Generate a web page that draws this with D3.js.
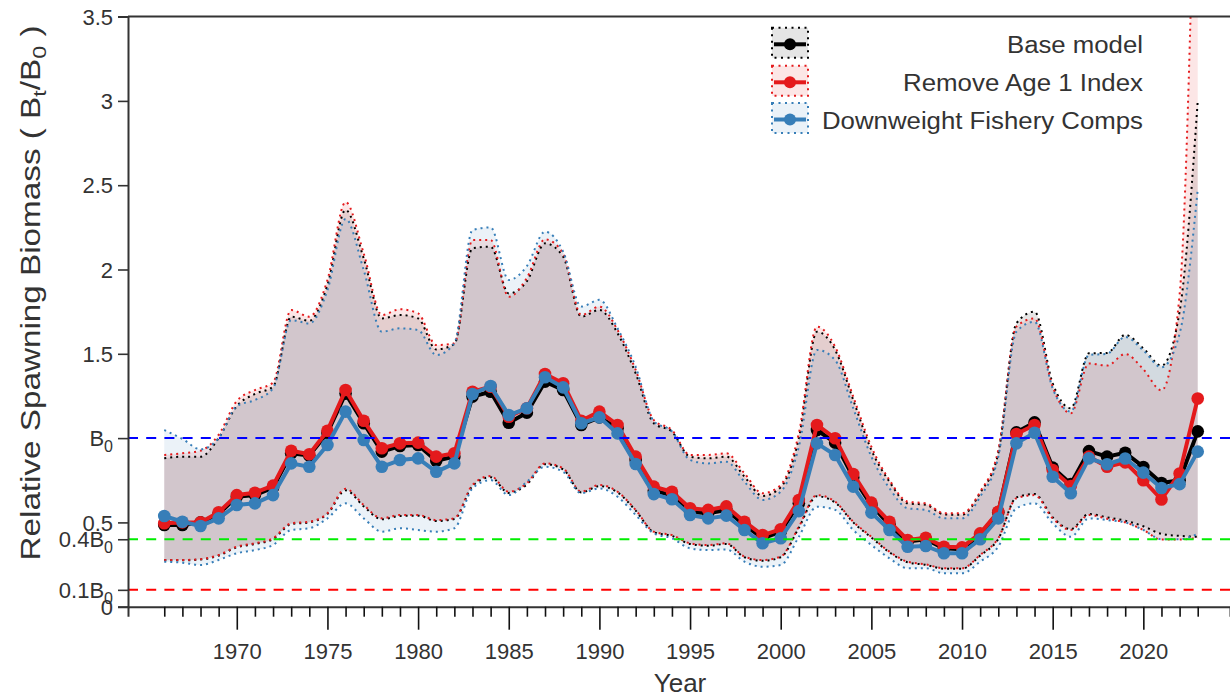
<!DOCTYPE html>
<html>
<head>
<meta charset="utf-8">
<script src="https://cdn.jsdelivr.net/npm/d3@7"></script>
<style>
  html, body { margin: 0; padding: 0; background: #fff; }
  svg { display: block; }
  text { font-family: "Liberation Sans", Arial, Helvetica, sans-serif; fill: #333; }
</style>
</head>
<body>
<svg id="chart" width="1230" height="698"></svg>
<script>
// Years of the assessment
const years = d3.range(1966, 2024);

// Spawning biomass relative to B0, point estimates
const baseModel = [0.485,0.485,0.50,0.55,0.652,0.662,0.706,0.91,0.896,1.032,1.264,1.088,0.92,0.953,0.959,0.866,0.89,1.246,1.275,1.091,1.151,1.335,1.285,1.078,1.123,1.058,0.87,0.688,0.662,0.563,0.554,0.574,0.485,0.406,0.445,0.613,1.048,0.973,0.767,0.603,0.485,0.386,0.40,0.346,0.34,0.425,0.56,1.034,1.093,0.825,0.728,0.923,0.89,0.913,0.829,0.734,0.75,1.04];
const removeAge1 = [0.495,0.50,0.50,0.56,0.662,0.676,0.718,0.925,0.904,1.044,1.285,1.103,0.94,0.969,0.973,0.89,0.91,1.275,1.305,1.127,1.177,1.38,1.325,1.103,1.157,1.078,0.89,0.712,0.682,0.584,0.574,0.595,0.504,0.425,0.459,0.633,1.078,0.999,0.787,0.617,0.504,0.396,0.409,0.356,0.352,0.435,0.563,1.024,1.078,0.811,0.716,0.89,0.83,0.856,0.75,0.636,0.79,1.235];
const downweight = [0.538,0.504,0.479,0.524,0.603,0.613,0.662,0.85,0.83,0.959,1.157,0.989,0.83,0.87,0.88,0.80,0.85,1.262,1.309,1.137,1.177,1.361,1.301,1.088,1.123,1.028,0.846,0.668,0.637,0.544,0.524,0.54,0.455,0.376,0.406,0.567,0.969,0.90,0.712,0.558,0.455,0.356,0.36,0.317,0.317,0.40,0.524,0.969,1.032,0.771,0.673,0.88,0.845,0.879,0.795,0.704,0.727,0.92];

// Upper interval bounds
const baseUpper = [0.88,0.89,0.89,1.0,1.19,1.262,1.305,1.72,1.696,1.908,2.353,2.066,1.71,1.73,1.71,1.526,1.558,2.126,2.135,1.858,1.93,2.155,2.076,1.72,1.76,1.622,1.384,1.088,1.038,0.89,0.88,0.89,0.771,0.657,0.708,0.999,1.631,1.523,1.226,0.929,0.741,0.613,0.605,0.548,0.545,0.675,0.91,1.681,1.75,1.325,1.177,1.503,1.505,1.612,1.533,1.43,1.75,3.0];
const removeUpper = [0.90,0.91,0.925,1.02,1.22,1.285,1.329,1.76,1.72,1.938,2.40,2.096,1.73,1.764,1.74,1.552,1.562,2.175,2.175,1.838,1.95,2.179,2.096,1.73,1.78,1.641,1.404,1.107,1.048,0.90,0.90,0.91,0.791,0.673,0.722,1.028,1.661,1.542,1.246,0.949,0.751,0.623,0.613,0.554,0.554,0.682,0.929,1.661,1.71,1.305,1.147,1.443,1.43,1.499,1.408,1.283,1.85,5.2];
const downUpper = [1.048,0.995,0.934,1.0,1.19,1.226,1.295,1.70,1.68,1.878,2.30,1.997,1.631,1.651,1.641,1.493,1.562,2.234,2.25,1.938,2.02,2.224,2.106,1.78,1.82,1.651,1.423,1.10,1.04,0.87,0.85,0.86,0.741,0.633,0.682,0.949,1.523,1.463,1.177,0.89,0.702,0.584,0.574,0.524,0.524,0.652,0.89,1.631,1.69,1.295,1.157,1.493,1.50,1.60,1.52,1.42,1.62,2.475];

// Lower interval bounds
const baseLower = [0.275,0.275,0.28,0.303,0.352,0.372,0.40,0.49,0.50,0.55,0.69,0.595,0.518,0.538,0.54,0.508,0.52,0.715,0.768,0.675,0.725,0.845,0.815,0.678,0.715,0.678,0.57,0.442,0.42,0.372,0.362,0.372,0.293,0.272,0.293,0.468,0.655,0.618,0.50,0.41,0.322,0.263,0.248,0.225,0.225,0.303,0.402,0.648,0.668,0.53,0.46,0.55,0.53,0.51,0.477,0.432,0.42,0.415];
const removeLower = [0.277,0.277,0.282,0.307,0.356,0.376,0.406,0.495,0.504,0.554,0.70,0.603,0.524,0.544,0.544,0.514,0.524,0.722,0.775,0.682,0.732,0.85,0.821,0.682,0.722,0.682,0.574,0.445,0.425,0.376,0.366,0.376,0.297,0.277,0.297,0.474,0.662,0.623,0.504,0.415,0.326,0.267,0.251,0.228,0.228,0.307,0.406,0.643,0.662,0.524,0.455,0.544,0.522,0.50,0.455,0.398,0.398,0.409];
const downLower = [0.267,0.261,0.247,0.277,0.317,0.336,0.366,0.455,0.465,0.524,0.613,0.524,0.445,0.465,0.455,0.445,0.465,0.702,0.751,0.662,0.741,0.83,0.80,0.673,0.702,0.652,0.544,0.435,0.406,0.346,0.336,0.34,0.267,0.237,0.247,0.415,0.593,0.574,0.455,0.366,0.287,0.228,0.228,0.198,0.198,0.267,0.356,0.584,0.613,0.495,0.415,0.524,0.514,0.50,0.455,0.40,0.40,0.432];

// Reference levels
const refValues = [1.0, 0.4, 0.1];
const refColors = ["#0000ff", "#00ee00", "#ff0000"];

// Axis ticks
const yTickValues = [0, 0.1, 0.4, 0.5, 1.0, 1.5, 2, 2.5, 3, 3.5];
const yTickLabels = ["0", "0.1B|0", "0.4B|0", "0.5", "B|0", "1.5", "2", "2.5", "3", "3.5"];
const xMajorTicks = [1970, 1975, 1980, 1985, 1990, 1995, 2000, 2005, 2010, 2015, 2020];

const seriesNames = ["Base model", "Remove Age 1 Index", "Downweight Fishery Comps"];
const seriesColors = ["#000000", "#e41a1c", "#377eb8"];

const series = [
  { name: seriesNames[0], color: seriesColors[0], mid: baseModel, lo: baseLower, hi: baseUpper, alpha: 0.1 },
  { name: seriesNames[1], color: seriesColors[1], mid: removeAge1, lo: removeLower, hi: removeUpper, alpha: 0.11 },
  { name: seriesNames[2], color: seriesColors[2], mid: downweight, lo: downLower, hi: downUpper, alpha: 0.1 }
];

const svg = d3.select("#chart");
const plotLeft = 128, plotRight = 1230, plotTop = 16.6, plotBottom = 606.7;

const x = d3.scaleLinear().domain([1964, 2024.78]).range([plotLeft, plotRight]);
const y = d3.scaleLinear().domain([0, 3.5]).range([plotBottom, plotTop]);

svg.append("defs").append("clipPath").attr("id", "plotClip")
  .append("rect").attr("x", plotLeft).attr("y", plotTop)
  .attr("width", plotRight - plotLeft).attr("height", plotBottom - plotTop);

const plot = svg.append("g").attr("clip-path", "url(#plotClip)");

// Interval bands
const area = d3.area()
  .x((d, i) => x(years[i]))
  .y0(d => y(d[0]))
  .y1(d => y(d[1]))
  .curve(d3.curveMonotoneX);

series.forEach(s => {
  const pts = years.map((yr, i) => [s.lo[i], s.hi[i]]);
  plot.append("path")
    .datum(pts)
    .attr("d", area)
    .attr("fill", s.color)
    .attr("fill-opacity", s.alpha)
    .attr("stroke", "none");
});

// Dotted bound outlines
const boundLine = d3.line()
  .x((d, i) => x(years[i]))
  .y(d => y(d))
  .curve(d3.curveMonotoneX);

series.forEach(s => {
  [s.lo, s.hi].forEach(arr => {
    plot.append("path")
      .datum(arr)
      .attr("d", boundLine)
      .attr("fill", "none")
      .attr("stroke", s.color)
      .attr("stroke-width", 2)
      .attr("stroke-dasharray", "2,4");
  });
});

// Point-estimate lines with markers
const midLine = d3.line().x((d, i) => x(years[i])).y(d => y(d));
series.forEach(s => {
  plot.append("path")
    .datum(s.mid)
    .attr("d", midLine)
    .attr("fill", "none")
    .attr("stroke", s.color)
    .attr("stroke-width", 4)
    .attr("stroke-linejoin", "round");
  plot.selectAll(null)
    .data(s.mid)
    .enter().append("circle")
    .attr("cx", (d, i) => x(years[i]))
    .attr("cy", d => y(d))
    .attr("r", 6.3)
    .attr("fill", s.color);
});

// Reference lines at B0, 0.4B0 and 0.1B0
refValues.forEach((v, i) => {
  svg.append("line")
    .attr("x1", plotLeft).attr("x2", plotRight)
    .attr("y1", y(v)).attr("y2", y(v))
    .attr("stroke", refColors[i])
    .attr("stroke-width", 2)
    .attr("stroke-dasharray", "10,8.2");
});

// Top frame line
svg.append("line").attr("x1", plotLeft).attr("x2", plotRight).attr("y1", plotTop).attr("y2", plotTop)
  .attr("stroke", "#333").attr("stroke-width", 2);

// Y axis
const yAxis = d3.axisLeft(y).tickValues(yTickValues).tickSize(10).tickPadding(5).tickFormat(() => "");
const gy = svg.append("g").attr("transform", `translate(${plotLeft},0)`).call(yAxis);
gy.select(".domain").attr("stroke", "#333").attr("stroke-width", 2);
gy.selectAll(".tick line").attr("stroke", "#333").attr("stroke-width", 1.6);
gy.selectAll(".tick text").each(function (d, i) {
  const t = d3.select(this);
  const parts = yTickLabels[i].split("|");
  t.text(null)
    .attr("font-size", 22)
    .attr("fill", "#333")
    .attr("dy", "0.35em")
    .style("font-family", "'Liberation Sans', Arial, sans-serif");
  t.append("tspan").text(parts[0]);
  if (parts.length > 1) {
    t.append("tspan").attr("font-size", 16).attr("dy", 6).text(parts[1]);
  }
});

// X axis
const xAxis = d3.axisBottom(x).tickValues(years).tickSize(10).tickPadding(12)
  .tickFormat(d => xMajorTicks.includes(d) ? String(d) : "");
const gx = svg.append("g").attr("transform", `translate(0,${plotBottom})`).call(xAxis);
gx.select(".domain").attr("stroke", "#333").attr("stroke-width", 2);
gx.selectAll(".tick line")
  .attr("stroke", "#111").attr("stroke-width", 1.6)
  .attr("y2", d => xMajorTicks.includes(d) ? 23 : 10);
gx.selectAll(".tick text")
  .attr("font-size", 22)
  .attr("fill", "#333")
  .attr("y", 37)
  .style("font-family", "'Liberation Sans', Arial, sans-serif");

// Axis titles
svg.append("text")
  .attr("x", 680).attr("y", 692)
  .attr("text-anchor", "middle")
  .attr("font-size", 26)
  .text("Year");

const yTitle = svg.append("text")
  .attr("transform", "translate(40,293) rotate(-90)")
  .attr("text-anchor", "middle")
  .attr("font-size", 27)
  .attr("textLength", 535)
  .attr("lengthAdjust", "spacingAndGlyphs");
yTitle.append("tspan").text("Relative Spawning Biomass ( B");
yTitle.append("tspan").attr("font-size", 19).attr("dy", 6).text("t");
yTitle.append("tspan").attr("dy", -6).text("/B");
yTitle.append("tspan").attr("font-size", 19).attr("dy", 6).text("0");
yTitle.append("tspan").attr("dy", -6).text(" )");

// Legend
const legend = svg.append("g");
const legendRows = [44.3, 82.3, 119.5];
const legendWidths = [136, 240, 321];
series.forEach((s, i) => {
  const cy = legendRows[i];
  const row = legend.append("g");
  row.append("rect")
    .attr("x", 772).attr("y", cy - 16.5).attr("width", 36).attr("height", 30)
    .attr("fill", s.color).attr("fill-opacity", s.alpha)
    .attr("stroke", s.color).attr("stroke-width", 2).attr("stroke-dasharray", "2,4.5");
  row.append("line")
    .attr("x1", 774).attr("x2", 806).attr("y1", cy).attr("y2", cy)
    .attr("stroke", s.color).attr("stroke-width", 4);
  row.append("circle").attr("cx", 790).attr("cy", cy).attr("r", 6).attr("fill", s.color);
  row.append("text")
    .attr("x", 1143 - legendWidths[i]).attr("y", cy + 9)
    .attr("font-size", 23)
    .attr("fill", "#111")
    .attr("textLength", legendWidths[i])
    .attr("lengthAdjust", "spacingAndGlyphs")
    .text(s.name);
});
</script>
</body>
</html>
